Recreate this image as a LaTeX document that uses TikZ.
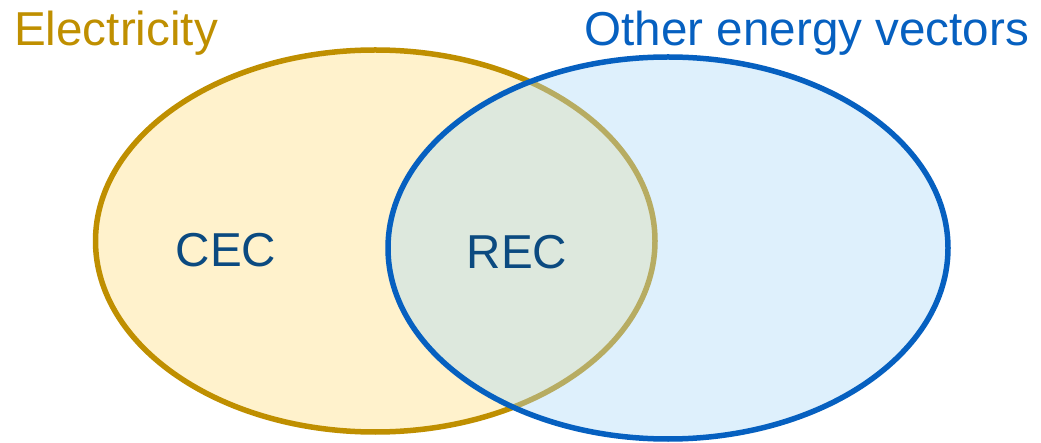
\documentclass[tikz,border=0pt]{standalone}
\usepackage{fontspec}
\setmainfont{Liberation Sans}
\definecolor{elecline}{HTML}{BF8F00}
\definecolor{elecfill}{HTML}{FFF2CC}
\definecolor{othline}{HTML}{0660C0}
\definecolor{othfill}{RGB}{172,217,247}
\definecolor{labtext}{HTML}{0B4A80}
\begin{document}
\begin{tikzpicture}[x=1pt,y=-1pt,
  lbl/.style={inner sep=0pt,anchor=base west,font=\fontsize{47.6}{56}\selectfont},
  ring/.style={line width=5.5pt}]
\useasboundingbox (0,0) rectangle (1041,443);
% Electricity ellipse
\fill[elecfill] (375.25,241) ellipse [x radius=279.75, y radius=191];
\draw[ring,elecline] (375.25,241) ellipse [x radius=279.75, y radius=191];
% Other energy vectors ellipse
\fill[othfill,fill opacity=0.4] (668,248) ellipse [x radius=280, y radius=191];
\draw[ring,othline] (668,248) ellipse [x radius=280, y radius=191];
% labels
\node[lbl,text=elecline] (elec) at (14,45.5) {Electricity};
\node[lbl,text=othline] (oth) at (584.5,45.5) {Other energy vectors};
\node[lbl,text=labtext] (cec) at (175.5,266.5) {CEC};
\node[lbl,text=labtext] (rec) at (466.5,268.5) {REC};
\end{tikzpicture}
\end{document}
